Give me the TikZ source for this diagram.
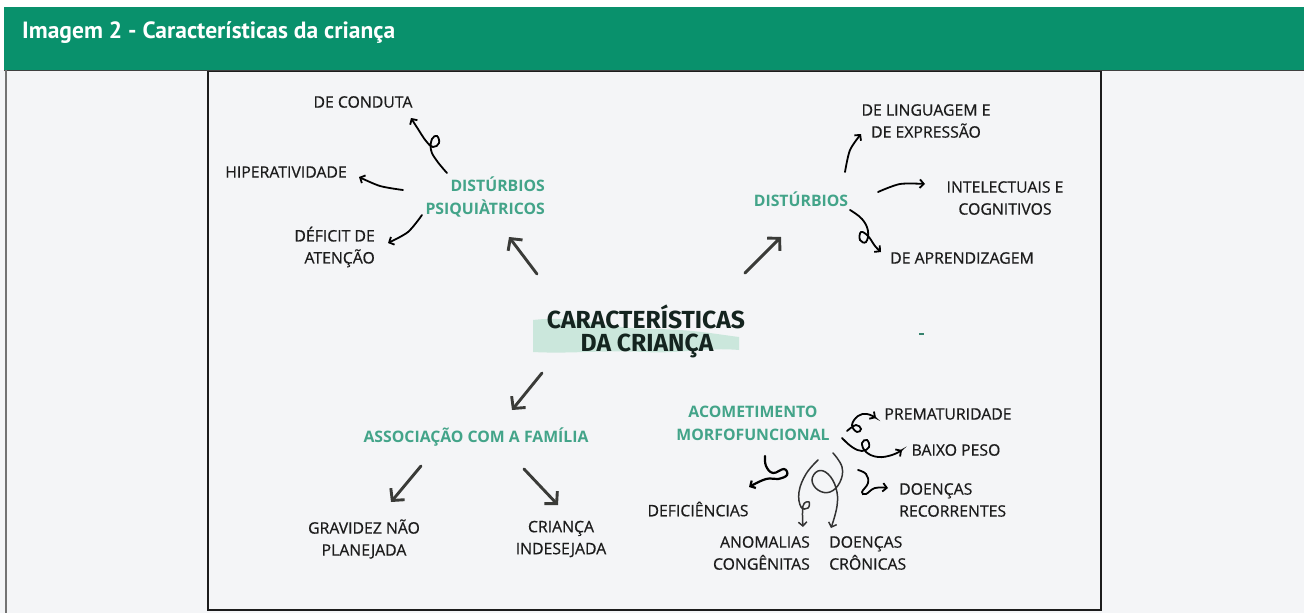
\documentclass[tikz,border=0pt]{standalone}
\usepackage{fontspec}
\setmainfont{Open Sans}
\newfontfamily\labfont{Open Sans}[FakeBold=0.6]
\newfontfamily\titlefont{PT Sans}
\newfontfamily\centerfont{Fira Sans}
\usetikzlibrary{arrows.meta}
\definecolor{hdr}{HTML}{09916C}
\definecolor{bg}{HTML}{F4F5F7}
\definecolor{tealtxt}{HTML}{43A489}
\definecolor{thickc}{HTML}{3A3B38}
\definecolor{wave}{HTML}{CBE7DC}
\definecolor{ink}{HTML}{1C1C1C}
\definecolor{ctr}{HTML}{14241F}
\tikzset{
  lab/.style={font=\labfont\fontsize{15.8}{22}\selectfont, text=ink, align=center, inner sep=0pt},
  grn/.style={font=\fontsize{15.8}{23}\selectfont\bfseries, text=tealtxt, align=center, inner sep=0pt},
  ctrtxt/.style={inner sep=0pt, text=ctr, font=\centerfont\bfseries\fontsize{24.7}{23}\selectfont, anchor=base},
  thk/.style={line width=2.9pt, draw=thickc, line cap=round, -{Straight Barb[length=8.5pt,width=18pt]}},
  curl/.style={line width=1.8pt, draw=black, line cap=round, -{Straight Barb[length=4pt,width=8.5pt]}},
}
\begin{document}
\begin{tikzpicture}[x=1pt,y=-1pt]
\useasboundingbox (0,0) rectangle (1304,613);
\fill[white] (0,0) rectangle (1304,613);
\fill[bg] (0,70) rectangle (1304,613);
\fill[hdr] (4,7) rectangle (1304,70);
\draw[line width=1pt, black!75] (4,70) -- (1304,70);
\draw[line width=1.5pt, black!55] (6,70) -- (6,613);
\draw[line width=1.5pt, ink] (208,71.5) rectangle (1101,610);
\node[anchor=base west, text=white, inner sep=0pt, font=\titlefont\bfseries\fontsize{23.5}{26}\selectfont] (title) at (22,38.5) {Imagem 2 - Características da criança};

% center wave + title
\fill[wave] (533,320) .. controls (575,315) and (610,329) .. (650,329) .. controls (690,329) and (715,334) .. (739,337)
  -- (739,350) .. controls (705,347) and (680,354) .. (645,352) .. controls (600,350) and (570,354) .. (533,352) -- cycle;
\node[ctrtxt] (center) at (646,328) {CARACTERÍSTICAS};
\node[ctrtxt] (center2) at (647,351) {DA CRIANÇA};
\fill[tealtxt!80!black] (919,333) rectangle (924,335);

% group nodes
\node[grn, anchor=east, align=right] (psiq) at (545,197) {DISTÚRBIOS\\PSIQUIÀTRICOS};
\node[grn] (dist) at (801,199) {DISTÚRBIOS};
\node[grn] (assoc) at (476,437) {ASSOCIAÇÃO COM A FAMÍLIA};
\node[grn] (morfo) at (753,423) {ACOMETIMENTO\\MORFOFUNCIONAL};

% leaves
\node[lab] (conduta) at (363,102) {DE CONDUTA};
\node[lab] (hiper) at (286,172) {HIPERATIVIDADE};
\node[lab, anchor=east, align=right] (deficit) at (375,247) {DÉFICIT DE\\ATENÇÃO};
\node[lab] (ling) at (926,121) {DE LINGUAGEM E\\DE EXPRESSÃO};
\node[lab] (intel) at (1005,198) {INTELECTUAIS E\\COGNITIVOS};
\node[lab] (aprend) at (962,258) {DE APRENDIZAGEM};
\node[lab] (grav) at (364,539) {GRAVIDEZ NÃO\\PLANEJADA};
\node[lab] (crianca) at (561,539) {CRIANÇA\\INDESEJADA};
\node[lab] (prem) at (948,414) {PREMATURIDADE};
\node[lab] (baixo) at (956,450) {BAIXO PESO};
\node[lab, anchor=west, align=left] (recorr) at (899,500) {DOENÇAS\\RECORRENTES};
\node[lab] (defic) at (698,509) {DEFICIÊNCIAS};
\node[lab, anchor=east, align=right] (anom) at (810,553) {ANOMALIAS\\CONGÊNITAS};
\node[lab, anchor=west, align=left] (cron) at (829,553) {DOENÇAS\\CRÔNICAS};

% thick arrows
\coordinate (t1s) at (537,274); \coordinate (t1e) at (509,237);
\coordinate (t2s) at (745,273); \coordinate (t2e) at (781,237);
\coordinate (t3s) at (542,373); \coordinate (t3e) at (512,410);
\coordinate (t4s) at (421,466); \coordinate (t4e) at (391,502);
\coordinate (t5s) at (524,469); \coordinate (t5e) at (558,505);
\draw[thk] (t1s) -- (t1e);
\draw[thk] (t2s) -- (t2e);
\draw[thk] (t3s) -- (t3e);
\draw[thk] (t4s) -- (t4e);
\draw[thk] (t5s) -- (t5e);

% curly arrows
\coordinate (c1s) at (447,173); \coordinate (c1e) at (411,118);
\draw[curl] plot[smooth, tension=0.7] coordinates {(c1s) (437,161) (431,150) (432,139) (437,136) (439,143) (433,147) (426,141) (418,129) (c1e)};
\coordinate (c2s) at (403,190); \coordinate (c2e) at (359,177);
\draw[curl] plot[smooth] coordinates {(c2s) (380,186) (c2e)};
\coordinate (c3s) at (422,215); \coordinate (c3e) at (388,243);
\draw[curl] plot[smooth] coordinates {(c3s) (408,232) (c3e)};
\coordinate (c4s) at (845,172); \coordinate (c4e) at (861,134);
\draw[curl] plot[smooth] coordinates {(c4s) (850,150) (c4e)};
\coordinate (c5s) at (878,192); \coordinate (c5e) at (925,184);
\draw[curl] plot[smooth] coordinates {(c5s) (900,184) (c5e)};
\coordinate (c6s) at (850,210); \coordinate (c6e) at (881,252);
\draw[curl] plot[smooth, tension=0.7] coordinates {(c6s) (862,219) (868,231) (866,242) (860,240) (861,232) (868,236) (875,246) (c6e)};
\coordinate (c7s) at (847,431); \coordinate (c7e) at (876,418);
\draw[curl] plot[smooth, tension=0.7] coordinates {(c7s) (856,425) (861,429) (857,432) (852,425) (858,416) (867,414) (c7e)};
\coordinate (c8s) at (842,438); \coordinate (c8e) at (902,450);
\draw[curl] plot[smooth, tension=0.7] coordinates {(c8s) (852,447) (862,451) (869,447) (867,440) (862,443) (866,452) (878,457) (892,455) (c8e)};
\coordinate (c9s) at (858,470); \coordinate (c9e) at (888,488);
\draw[curl] plot[smooth, tension=0.7] coordinates {(c9s) (866,474) (868,483) (862,492) (866,494) (875,488) (c9e)};
\coordinate (c10s) at (765,456); \coordinate (c10e) at (749,487);
\draw[curl, line width=2.2pt] plot[smooth, tension=0.7] coordinates {(c10s) (766,466) (773,473) (784,469) (787,475) (778,479) (766,479) (c10e)};
\coordinate (c11s) at (818,460); \coordinate (c11e) at (803,527);
\draw[curl, line width=1.5pt, draw=black!80] plot[smooth, tension=0.7] coordinates {(c11s) (806,474) (799,492) (801,507) (808,508) (809,502) (803,506) (c11e)};
\coordinate (c12s) at (833,453); \coordinate (c12e) at (831,528);
\draw[curl, line width=1.5pt, draw=black!80] plot[smooth, tension=0.7] coordinates {(c12s) (842,467) (840,482) (830,492) (818,490) (812,480) (818,471) (828,474) (836,488) (837,506) (c12e)};
\end{tikzpicture}
\end{document}
